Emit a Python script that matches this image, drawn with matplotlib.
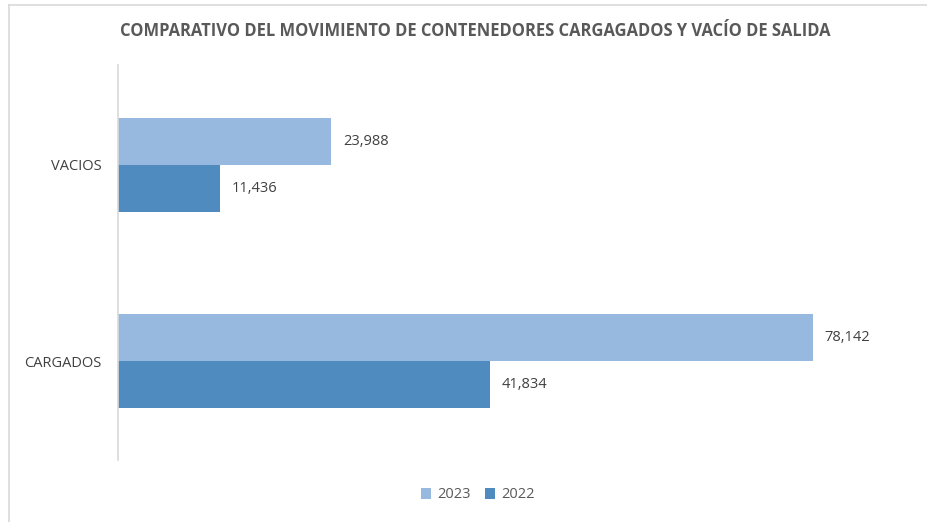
import matplotlib
matplotlib.use("Agg")
import matplotlib.pyplot as plt
from matplotlib.lines import Line2D

categories = ["CARGADOS", "VACIOS"]
series_names = ["2023", "2022"]
values_2023 = [78142, 23988]
values_2022 = [41834, 11436]

W, H = 928, 522
fig = plt.figure(figsize=(W / 100, H / 100), dpi=100)
plt.rcParams['font.family'] = ['Open Sans', 'DejaVu Sans']

# chart border (top and left edges only visible)
fig.lines.append(Line2D([9 / W, 9 / W], [0, 1 - 5 / H], transform=fig.transFigure,
                        color="#d9d9d9", linewidth=1.2))
fig.lines.append(Line2D([9 / W, 1], [1 - 5 / H, 1 - 5 / H], transform=fig.transFigure,
                        color="#d9d9d9", linewidth=1.2))

left, right, top, bottom = 118, 918, 65, 460
ax = fig.add_axes([left / W, 1 - bottom / H, (right - left) / W, (bottom - top) / H])

c23 = "#97b9e0"
c22 = "#4f8bbf"
h = 0.24
y = list(range(len(categories)))
ax.barh([v + h / 2 for v in y], values_2023, height=h, color=c23, label=series_names[0])
ax.barh([v - h / 2 for v in y], values_2022, height=h, color=c22, label=series_names[1])

for yi, v in zip(y, values_2023):
    ax.text(v + 1300, yi + h / 2, f"{v:,}", va="center", ha="left", fontsize=10.5, color="#404040")
for yi, v in zip(y, values_2022):
    ax.text(v + 1300, yi - h / 2, f"{v:,}", va="center", ha="left", fontsize=10.5, color="#404040")

ax.set_xlim(0, 90000)
ax.set_ylim(-0.505, 1.51)
ax.set_yticks(y)
ax.set_yticklabels(categories, fontsize=10.5, color="#404040")
ax.set_xticks([])
ax.tick_params(axis="y", length=0, pad=12)
for s in ["top", "right", "bottom"]:
    ax.spines[s].set_visible(False)
ax.spines["left"].set_color("#d9d9d9")
ax.spines["left"].set_linewidth(1.2)

fig.text(475 / W, 1 - 31 / H, "COMPARATIVO DEL MOVIMIENTO DE CONTENEDORES CARGAGADOS Y VACÍO DE SALIDA",
         ha="center", va="center", fontsize=11.9, fontweight="bold", color="#595959")

leg = fig.legend(loc="center", bbox_to_anchor=(478 / W, 1 - 495 / H), ncol=2, frameon=False,
                 fontsize=10.5, handlelength=0.7, handleheight=0.7, handletextpad=0.4, columnspacing=1.0)
for t in leg.get_texts():
    t.set_color("#595959")

fig.savefig("out.png", dpi=100, facecolor="white")
